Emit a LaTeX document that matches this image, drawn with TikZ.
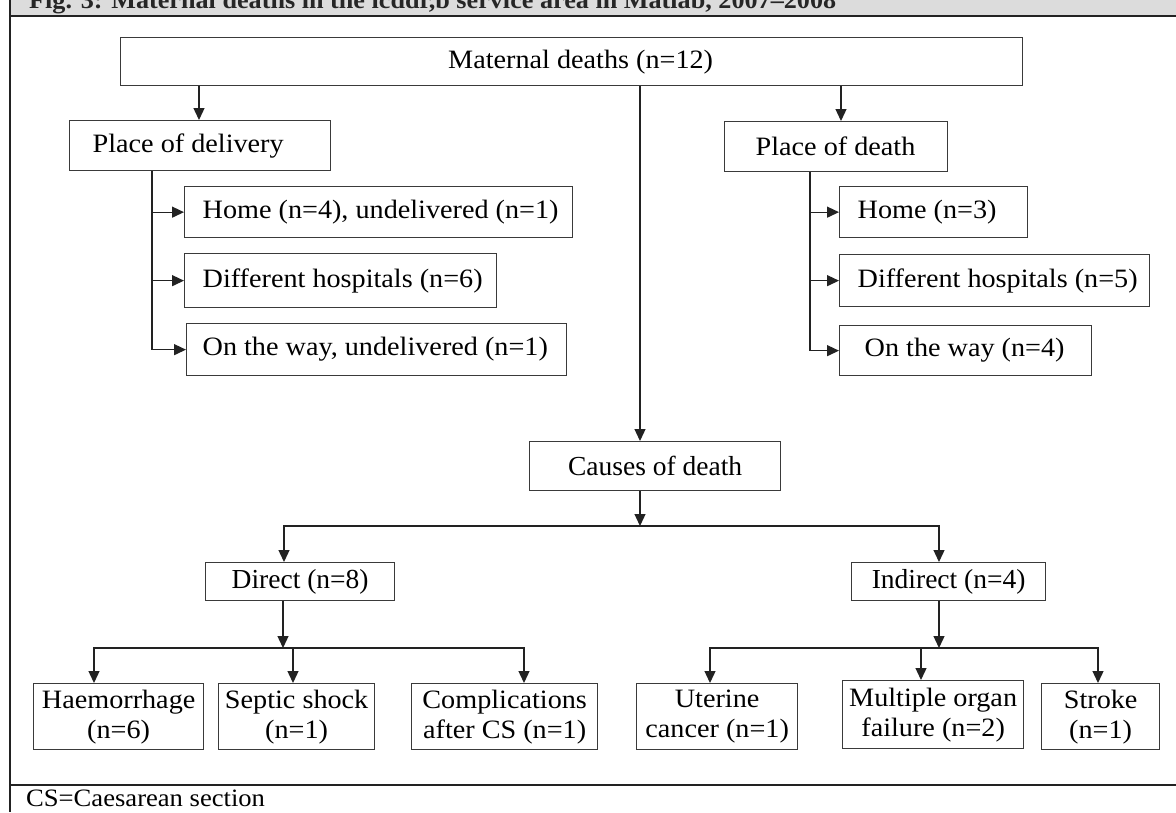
\documentclass[tikz,border=0pt]{standalone}
\usepackage{fontspec}
\setmainfont{Liberation Serif}
\newfontfamily\chfont[FakeStretch=1.064]{Liberation Serif}
\usetikzlibrary{arrows.meta}
\definecolor{linecol}{HTML}{222222}
\definecolor{boxcol}{HTML}{3A3A3A}
\definecolor{barfill}{HTML}{DCDCDC}
\newcommand\ltxt[2]{\makebox[#1][l]{#2}}
\begin{document}
\begin{tikzpicture}[x=1pt,y=-1pt,
  ln/.style={draw=linecol, line width=1.3pt},
  arr/.style={ln, -{Triangle[length=12pt,width=11pt]}},
  box/.style={draw=boxcol, line width=1.3pt, rectangle, inner sep=0pt, anchor=north west, font=\chfont\fontsize{26.5}{30}\selectfont, text=black},
  nbox/.style={box, font=\fontsize{27.5}{30}\selectfont, align=center},
  tbox/.style={box, align=center},
]
\useasboundingbox (0,0) rectangle (1176,812);
\clip (0,0) rectangle (1176,812);
% frame
\fill[barfill] (10,0) rectangle (1176,16);
\draw[ln] (10,16) -- (1176,16);
\draw[ln] (10,785) -- (1176,785);
\draw[ln] (10,0) -- (10,812);
\node[anchor=base west, inner sep=0pt, font=\chfont\bfseries\fontsize{24.6}{28}\selectfont, text=black!85] (title) at (29,8) {Fig. 3: Maternal deaths in the icddr,b service area in Matlab, 2007–2008};
\node[anchor=base west, inner sep=0pt, font=\chfont\fontsize{25}{28}\selectfont] (note) at (26,806) {CS=Caesarean section};

% top
\node[box, minimum width=902pt, minimum height=48pt, align=center] (mat) at (120,37) {\hspace*{18pt}Maternal deaths (n=12)};
\node[box, minimum width=261pt, minimum height=50pt] (pdel) at (69,120) {\ltxt{215pt}{Place of delivery}};
\node[box, minimum width=223pt, minimum height=50pt] (pdea) at (724,121) {\ltxt{161pt}{Place of death}};

% left children
\node[box, minimum width=388pt, minimum height=51pt] (h4) at (184,186) {\ltxt{352pt}{Home (n=4), undelivered (n=1)}};
\node[box, minimum width=312pt, minimum height=54pt] (dh6) at (184,253) {\ltxt{276pt}{Different hospitals (n=6)}};
\node[box, minimum width=380pt, minimum height=52pt] (ow1) at (186,323) {\ltxt{348pt}{On the way, undelivered (n=1)}};

% right children
\node[box, minimum width=188pt, minimum height=51pt] (h3) at (839,186) {\ltxt{152pt}{Home (n=3)}};
\node[box, minimum width=310pt, minimum height=52pt] (dh5) at (839,254) {\ltxt{274pt}{Different hospitals (n=5)}};
\node[box, minimum width=252pt, minimum height=50pt] (ow4) at (839,325) {\ltxt{202pt}{On the way (n=4)}};

% causes
\node[nbox, minimum width=251pt, minimum height=49pt] (cause) at (529,441) {Causes of death};
\node[nbox, minimum width=189pt, minimum height=38pt] (dir) at (205,562) {Direct (n=8)};
\node[nbox, minimum width=194pt, minimum height=38pt] (ind) at (851,562) {Indirect (n=4)};

% bottom boxes
\node[tbox, minimum width=170pt, minimum height=66pt] (hae) at (33,683) {Haemorrhage\\(n=6)};
\node[tbox, minimum width=156pt, minimum height=66pt] (sep) at (218,683) {Septic shock\\(n=1)};
\node[tbox, minimum width=186pt, minimum height=66pt] (comp) at (411,683) {Complications\\after CS (n=1)};
\node[tbox, minimum width=161pt, minimum height=66pt] (ute) at (636,683) {Uterine\\cancer (n=1)};
\node[tbox, minimum width=181pt, minimum height=68pt] (mof) at (842,680) {Multiple organ\\failure (n=2)};
\node[tbox, minimum width=118pt, minimum height=66pt] (str) at (1041,683) {Stroke\\(n=1)};

% helper x positions
\coordinate (xl) at (199,0);
\coordinate (xr) at (841,0);
\coordinate (xc) at (640,0);
\coordinate (xlb) at (152,0);
\coordinate (xrb) at (810,0);
\coordinate (xd) at (284,0);
\coordinate (xi) at (939,0);
\coordinate (xh) at (94,0);
\coordinate (xs) at (293,0);
\coordinate (xcp) at (524,0);
\coordinate (xu) at (710,0);
\coordinate (xm) at (921,0);
\coordinate (xst) at (1098,0);
\coordinate (b1) at (640,526);
\coordinate (b2) at (283,648);
\coordinate (b3) at (939,648);

% connectors from top
\draw[arr] (mat.south -| xl) -- (pdel.north -| xl);
\draw[arr] (mat.south -| xr) -- (pdea.north -| xr);
\draw[arr] (mat.south -| xc) -- (cause.north -| xc);

% left branch
\draw[arr] (pdel.south -| xlb) |- (ow1.west);
\draw[arr] (h4.west -| xlb) -- (h4.west);
\draw[arr] (dh6.west -| xlb) -- (dh6.west);

% right branch
\draw[arr] (pdea.south -| xrb) |- (ow4.west);
\draw[arr] (h3.west -| xrb) -- (h3.west);
\draw[arr] (dh5.west -| xrb) -- (dh5.west);

% causes split
\draw[arr] (cause.south -| b1) -- (b1);
\draw[arr] (b1) -| (dir.north -| xd);
\draw[arr] (b1) -| (ind.north -| xi);

% direct split
\draw[arr] (dir.south -| b2) -- (b2);
\draw[arr] (b2) -| (hae.north -| xh);
\draw[arr] (b2 -| xs) -- (sep.north -| xs);
\draw[arr] (b2) -| (comp.north -| xcp);

% indirect split
\draw[arr] (ind.south -| b3) -- (b3);
\draw[arr] (b3) -| (ute.north -| xu);
\draw[arr] (b3 -| xm) -- (mof.north -| xm);
\draw[arr] (b3) -| (str.north -| xst);
\end{tikzpicture}
\end{document}
